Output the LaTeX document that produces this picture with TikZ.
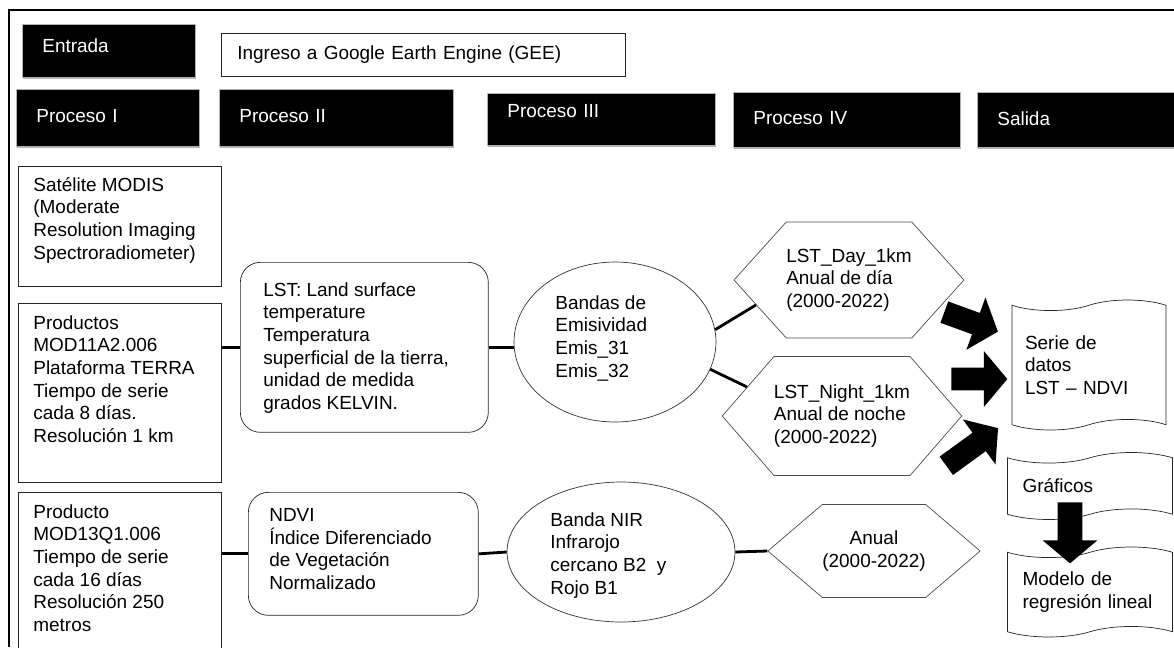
\documentclass[tikz,border=0pt]{standalone}
\usepackage{fontspec}
\setmainfont{Liberation Sans}
\usetikzlibrary{shapes.geometric,shapes.symbols,shapes.arrows,positioning,shadows}

\tikzset{
  kopf/.style={fill=black, text=white, draw=gray!60, anchor=north west, align=left,
    inner xsep=0.4cm, inner ysep=0pt, drop shadow={shadow xshift=0.5pt, shadow yshift=-0.8pt, fill=gray!60, opacity=1}},
  kasten/.style={draw=black!85, anchor=north west, inner sep=0pt},
  txt/.style={anchor=north west, inner sep=0pt, align=left},
  rund/.style={draw=black!85, rounded corners=0.4cm, anchor=north west, inner sep=0pt},
  oval/.style={draw=black!80, ellipse, inner sep=0pt},
  sechseck/.style={draw=black!70, signal, signal to=east and west, inner sep=0pt, align=left},
  blatt/.style={draw=black!85, tape, tape bend height=6pt, align=left, inner xsep=0.26cm},
  verb/.style={line width=1.6pt},
  pfeil/.style={single arrow, fill=black, inner xsep=0pt, inner ysep=0.22cm,
    single arrow head extend=0.33cm, single arrow tip angle=100, anchor=tail}
}

\begin{document}
\begin{tikzpicture}[x=0.02cm,y=-0.02cm, font=\fontsize{10.8}{12.9}\selectfont]
% Rahmen
\useasboundingbox (0,0) rectangle (1174,647);
\draw[line width=1.4pt] (9,647) -- (9,10) -- (1174,10);

% Kopfzeile
\node[kopf, text width=2.66cm, minimum height=1.06cm, text depth=0.2cm] (entrada) at (22,24) {Entrada};
\node[kasten, inner xsep=0.32cm, text width=7.44cm, minimum height=0.86cm, align=left] (gee) at (221,33) {Ingreso a Google Earth Engine (GEE)};
\node[kopf, text width=2.86cm, minimum height=1.14cm, text depth=0.06cm] (p1) at (16,89) {Proceso I};
\node[kopf, text width=3.88cm, minimum height=1.14cm, text depth=0.06cm] (p2) at (219,89) {Proceso II};
\node[kopf, text width=3.76cm, minimum height=1.04cm, text depth=0.32cm] (p3) at (487,93) {Proceso III};
\node[kopf, text width=3.74cm, minimum height=1.1cm, text depth=0.06cm] (p4) at (733,92) {Proceso IV};
\node[kopf, text width=3.2cm, minimum height=1.1cm, text depth=0.06cm] (salida) at (977,92) {Salida};

% Proceso I
\node[kasten, minimum width=4.06cm, minimum height=2.4cm] (sat) at (18,166) {};
\node[txt, below right=0.22cm and 0.3cm of sat.north west] (sat-t) {Satélite MODIS\\(Moderate\\Resolution Imaging\\Spectroradiometer)};
\node[kasten, minimum width=4.06cm, minimum height=3.58cm] (mod11) at (18,303) {};
\node[txt, below right=0.24cm and 0.3cm of mod11.north west] (mod11-t) {Productos\\MOD11A2.006\\Plataforma TERRA\\Tiempo de serie\\cada 8 días.\\Resolución 1 km};
\node[kasten, minimum width=4.06cm, minimum height=3.4cm] (mod13) at (18,492) {};
\node[txt, below right=0.24cm and 0.3cm of mod13.north west] (mod13-t) {Producto\\MOD13Q1.006\\Tiempo de serie\\cada 16 días\\Resolución 250\\metros};

% Proceso II
\node[rund, minimum width=4.96cm, minimum height=3.4cm] (lst) at (240,262) {};
\node[txt, below right=0.4cm and 0.46cm of lst.north west] (lst-t) {LST: Land surface\\temperature\\Temperatura\\superficial de la tierra,\\unidad de medida\\grados KELVIN.};
\node[rund, minimum width=4.6cm, minimum height=2.46cm] (ndvi) at (248,492) {};
\node[txt, below right=0.32cm and 0.42cm of ndvi.north west] (ndvi-t) {NDVI\\Índice Diferenciado\\de Vegetación\\Normalizado};

% Proceso III
\node[oval, minimum width=4.04cm, minimum height=3.2cm] (emis) at (615,342) {};
\node[txt] (emis-t) at ([xshift=-1.2cm,yshift=0.94cm]emis.center) {Bandas de\\Emisividad\\Emis\_31\\Emis\_32};
\node[oval, minimum width=4.56cm, minimum height=2.8cm] (nir) at (621,552) {};
\node[txt] (nir-t) at ([xshift=-1.42cm,yshift=0.8cm]nir.center) {Banda NIR\\Infrarojo\\cercano B2\ \ y\\Rojo B1};

% Proceso IV
\node[sechseck, minimum width=4.45cm, minimum height=2.32cm, signal pointer angle=96] (tag) at (849,280) {LST\_Day\_1km\\Anual de día\\(2000-2022)};
\node[sechseck, minimum width=4.65cm, minimum height=2.38cm, signal pointer angle=98] (nacht) at (842,416) {LST\_Night\_1km\\Anual de noche\\(2000-2022)};
\node[sechseck, minimum width=4.2cm, minimum height=1.86cm, signal pointer angle=81, align=center] (anual) at (874,551) {Anual\\(2000-2022)};

% Salida
\node[blatt, text width=2.56cm, minimum height=2.6cm] (serie) at (1089,365) {Serie de\\datos\\LST~--~NDVI};
\node[blatt, text width=2.7cm, minimum height=1.34cm, inner xsep=0.3cm] (graf) at (1090,486) {Gráficos};
\node[blatt, text width=2.7cm, minimum height=1.8cm, inner xsep=0.3cm] (modelo) at (1090,592) {Modelo de\\regresión lineal};

% Verbindungen
\draw[verb] (mod11.east |- lst.west) -- (lst.west);
\draw[verb] (lst.east) -- (lst.east -| emis.west);
\draw[verb] (emis.7) -- (tag.195);
\draw[verb] (emis.344) -- (nacht.163);
\draw[verb] (mod13.east |- ndvi.west) -- (ndvi.west);
\draw[verb] (ndvi.east) -- (nir.west);
\draw[verb] (nir.east) -- (anual.west);

% Blockpfeile
\node[pfeil, rotate=-20, minimum height=1.14cm] (pf1) at (944,312) {};
\node[pfeil, minimum height=1.12cm] (pf2) at (951,379) {};
\node[pfeil, rotate=36, minimum height=1.28cm] (pf3) at (946,466) {};
\node[pfeil, rotate=-90, minimum height=1.22cm, inner ysep=0.24cm, single arrow head extend=0.3cm] (pf4) at (1070,502) {};
\end{tikzpicture}
\end{document}
